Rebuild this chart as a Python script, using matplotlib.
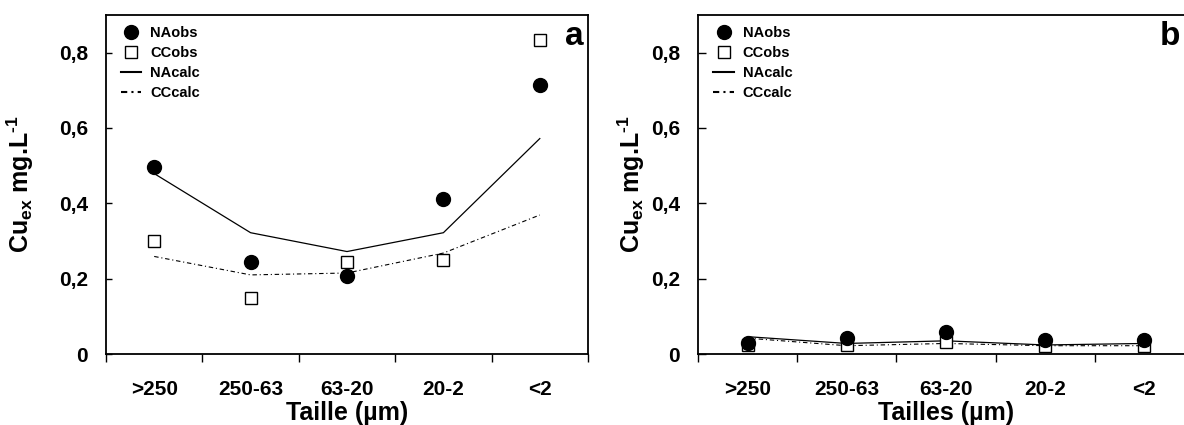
import matplotlib
matplotlib.use("Agg")
import matplotlib.pyplot as plt
from matplotlib.lines import Line2D

plt.rcParams['font.family'] = ['Liberation Sans', 'DejaVu Sans']
plt.rcParams['font.weight'] = 'bold'
plt.rcParams['mathtext.fontset'] = 'custom'
plt.rcParams['mathtext.rm'] = 'Liberation Sans:bold'
plt.rcParams['mathtext.bf'] = 'Liberation Sans:bold'
plt.rcParams['mathtext.default'] = 'bf'

categories = [">250", "250-63", "63-20", "20-2", "<2"]
yticks = [0, 0.2, 0.4, 0.6, 0.8]
ytick_labels = ["0", "0,2", "0,4", "0,6", "0,8"]

# Panel a
na_obs_a = [0.497, 0.244, 0.208, 0.411, 0.713]
cc_obs_a = [0.301, 0.150, 0.244, 0.249, 0.834]
na_calc_a = [0.479, 0.322, 0.272, 0.322, 0.572]
cc_calc_a = [0.259, 0.210, 0.215, 0.268, 0.369]

# Panel b
na_obs_b = [0.028, 0.043, 0.058, 0.037, 0.037]
cc_obs_b = [0.024, 0.024, 0.033, 0.022, 0.020]
na_calc_b = [0.046, 0.028, 0.035, 0.024, 0.028]
cc_calc_b = [0.042, 0.022, 0.028, 0.022, 0.022]

W, H = 1184, 425
fig = plt.figure(figsize=(W / 100, H / 100), dpi=100)

def px_axes(l, r, t, b):
    return fig.add_axes([l / W, (H - b) / H, (r - l) / W, (b - t) / H])

ax_a = px_axes(106, 588, 15, 354)
ax_b = px_axes(698, 1194, 15, 354)

dashdot = (0, (4, 2.5, 1, 2.5))

def draw(ax, na_obs, cc_obs, na_calc, cc_calc, letter, xlabel, ylab_x, letter_x, ytick_len):
    x = list(range(len(categories)))
    ax.plot(x, na_calc, color='black', lw=0.9, zorder=2)
    ax.plot(x, cc_calc, color='black', lw=0.8, linestyle=dashdot, zorder=2)
    ax.plot(x, cc_obs, linestyle='none', marker='s', markersize=8,
            markerfacecolor='white', markeredgecolor='black', markeredgewidth=1.0, zorder=3)
    ax.plot(x, na_obs, linestyle='none', marker='o', markersize=10,
            color='black', zorder=4)
    ax.set_xlim(-0.5, len(categories) - 0.5)
    ax.set_ylim(0, 0.9)
    ax.set_xticks([i - 0.5 for i in range(len(categories) + 1)])
    ax.set_xticklabels([])
    ax.set_xticks(x, minor=True)
    ax.set_xticklabels(categories, minor=True, fontsize=15, fontweight='bold')
    ax.tick_params(axis='x', which='major', direction='out', length=5.5, width=1.0)
    ax.tick_params(axis='x', which='minor', length=0, pad=19)
    ax.set_yticks(yticks)
    ax.set_yticklabels(ytick_labels, fontsize=15, fontweight='bold')
    ax.tick_params(axis='y', direction='in', length=ytick_len, width=1.0, pad=13)
    for s in ax.spines.values():
        s.set_linewidth(1.3)
    ax.set_xlabel(xlabel, fontsize=18, fontweight='bold')
    ax.xaxis.set_label_coords(0.5, -0.14)
    ax.set_ylabel(r'Cu$_{\mathbf{ex}}$ mg.L$^{\mathbf{‐1}}$', fontsize=18, fontweight='bold')
    ax.yaxis.set_label_coords(ylab_x, 0.5)
    ax.text(letter_x, 0.938, letter, transform=ax.transAxes, ha='right', va='center',
            fontsize=24, fontweight='bold')
    handles = [
        Line2D([], [], linestyle='none', marker='o', markersize=10, color='black'),
        Line2D([], [], linestyle='none', marker='s', markersize=8,
               markerfacecolor='white', markeredgecolor='black', markeredgewidth=1.0),
        Line2D([], [], color='black', lw=1.5),
        Line2D([], [], color='black', lw=1.5, linestyle=(0, (3, 2, 1, 2))),
    ]
    labels = ["NAobs", "CCobs", "NAcalc", "CCcalc"]
    ax.legend(handles, labels, loc='upper left', bbox_to_anchor=(0.031, 0.968),
              frameon=False, borderpad=0, borderaxespad=0, handlelength=1.4,
              handletextpad=0.6, labelspacing=0.42,
              prop={'family': 'Liberation Sans', 'weight': 'bold', 'size': 10.5})

draw(ax_a, na_obs_a, cc_obs_a, na_calc_a, cc_calc_a, "a", "Taille (µm)", -0.145, 0.99, 4)
draw(ax_b, na_obs_b, cc_obs_b, na_calc_b, cc_calc_b, "b", "Tailles (µm)", -0.103, 0.972, 5.5)

fig.savefig("out.png", dpi=100)
